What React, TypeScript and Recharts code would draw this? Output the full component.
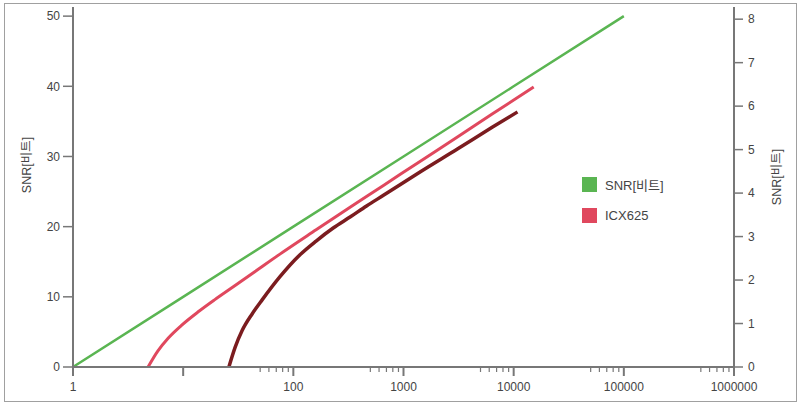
import { LineChart, Line, XAxis, YAxis, Legend } from 'recharts';

// x tick values (log axis): decades plus the short unlabelled minor ticks
const majorTicks = [1, 10, 100, 1000, 10000, 100000, 1000000];
const minorTicks = [
  50, 60, 70, 80, 90,
  500, 600, 700, 800, 900,
  5000, 6000, 7000, 8000, 9000,
  50000, 60000, 70000, 80000, 90000,
  500000, 600000, 700000, 800000, 900000,
];
// the reference leaves the "10" tick without a label
const unlabelled = [10];
const leftTicks = [0, 10, 20, 30, 40, 50];
const rightTicks = [0, 1, 2, 3, 4, 5, 6, 7, 8];
const legendNames = ['SNR[비트]', 'ICX625'];

// SNR[비트] (green)
const snrX = [1, 10, 100, 1000, 10000, 100000];
const snrY = [0, 10, 20, 30, 40, 50];

// ICX625 (red)
const icxX = [4.8, 5.9, 7.3, 9.6, 13.8, 19.4, 29.6, 45, 75, 161, 330, 663, 1334, 3110, 6380, 15200];
const icxY = [0, 2.3, 4.1, 5.9, 7.9, 9.6, 11.6, 13.6, 16.05, 19.55, 22.8, 25.9, 29.05, 32.8, 36.05, 39.9];

// unlabelled dark red curve
const refX = [26, 29.6, 34.3, 42.4, 52.3, 75, 115, 161, 230, 330, 462, 663, 1334, 3110, 6380, 10840];
const refY = [0, 2.8, 5.2, 7.6, 9.6, 12.8, 16.0, 17.95, 19.8, 21.4, 22.95, 24.5, 27.55, 31.1, 34.15, 36.35];

const toPoints = (xs: number[], ys: number[]) => xs.map((x, i) => ({ x, y: ys[i] }));

const snrData = toPoints(snrX, snrY);
const icxData = toPoints(icxX, icxY);
const refData = toPoints(refX, refY);

const FONT = '"Liberation Sans", Arial, "Noto Sans CJK KR", sans-serif';
const AXIS = '#777';
const TEXT = '#444';

const majorSet = new Set(majorTicks);
const unlabelledSet = new Set(unlabelled);

const XTick = (props: any) => {
  const { x, y, payload } = props;
  const major = majorSet.has(payload.value);
  return (
    <g>
      <line x1={x} y1={y} x2={x} y2={y + (major ? 9 : 5)} stroke={AXIS} strokeWidth={major ? 2 : 1.2} />
      {major && !unlabelledSet.has(payload.value) && (
        <text x={x} y={y + 24} textAnchor="middle" fill={TEXT} fontSize={12} fontFamily={FONT}>
          {payload.value}
        </text>
      )}
    </g>
  );
};

const LeftLabel = (props: any) => {
  const { viewBox } = props;
  const cx = viewBox.x + 27;
  const cy = 165;
  return (
    <text x={cx} y={cy} transform={`rotate(-90, ${cx}, ${cy})`} textAnchor="middle" dominantBaseline="central"
      fill={TEXT} fontSize={12.5} fontFamily={FONT}>
      SNR[비트]
    </text>
  );
};

const RightLabel = (props: any) => {
  const { viewBox } = props;
  const cx = viewBox.x + 43;
  const cy = 177;
  return (
    <text x={cx} y={cy} transform={`rotate(-90, ${cx}, ${cy})`} textAnchor="middle" dominantBaseline="central"
      fill={TEXT} fontSize={12.5} fontFamily={FONT}>
      SNR[비트]
    </text>
  );
};

const LegendBox = (props: any) => {
  const items = legendNames
    .map((n) => (props.payload || []).find((e: any) => e.value === n))
    .filter(Boolean);
  return (
    <div style={{ fontFamily: FONT, fontSize: 13, color: TEXT }}>
      {items.map((e: any) => (
        <div key={e.value} style={{ display: 'flex', alignItems: 'center', height: 31 }}>
          <span style={{ display: 'inline-block', width: 15, height: 15, background: e.color, marginRight: 8 }} />
          <span>{e.value}</span>
        </div>
      ))}
    </div>
  );
};

export default function App() {
  return (
    <div style={{ position: 'absolute', left: 0, top: 0, width: 799, height: 405, background: '#fff' }}>
      <div style={{ position: 'absolute', left: 4, top: 3, width: 791, height: 397, border: '1px solid #a0a0a0' }} />
      <LineChart width={799} height={405} margin={{ top: 7, right: 0, bottom: 0, left: 0 }}>
        <XAxis
          dataKey="x"
          type="number"
          scale="log"
          domain={[1, 1000000]}
          ticks={[...majorTicks, ...minorTicks]}
          interval={0}
          height={38}
          tickSize={0}
          tickMargin={0}
          tickLine={false}
          tick={<XTick />}
          axisLine={{ stroke: AXIS, strokeWidth: 2 }}
          allowDuplicatedCategory={false}
        />
        <YAxis
          yAxisId="left"
          type="number"
          domain={[0, 51.3]}
          ticks={leftTicks}
          width={73}
          tickSize={10}
          tickMargin={3}
          tick={{ fill: TEXT, fontSize: 12, fontFamily: FONT }}
          tickLine={{ stroke: AXIS, strokeWidth: 1.5 }}
          axisLine={{ stroke: AXIS, strokeWidth: 2 }}
          label={<LeftLabel />}
        />
        <YAxis
          yAxisId="right"
          orientation="right"
          type="number"
          domain={[0, 8.28]}
          allowDataOverflow
          ticks={rightTicks}
          width={65}
          tickSize={9}
          tickMargin={5}
          tick={{ fill: TEXT, fontSize: 12, fontFamily: FONT }}
          tickLine={{ stroke: AXIS, strokeWidth: 1.5 }}
          axisLine={{ stroke: AXIS, strokeWidth: 2 }}
          label={<RightLabel />}
        />
        <Legend
          layout="vertical"
          align="center"
          verticalAlign="middle"
          content={<LegendBox />}
          wrapperStyle={{ left: 582, top: 169, width: 120 }}
        />
        {/* invisible series so the right-hand axis gets drawn */}
        <Line
          yAxisId="right"
          data={snrData}
          dataKey="y"
          name="right"
          stroke="none"
          dot={false}
          activeDot={false}
          legendType="none"
          isAnimationActive={false}
        />
        <Line
          yAxisId="left"
          data={snrData}
          dataKey="y"
          name="SNR[비트]"
          type="linear"
          stroke="#5ab552"
          strokeWidth={2.5}
          dot={false}
          isAnimationActive={false}
        />
        <Line
          yAxisId="left"
          data={icxData}
          dataKey="y"
          name="ICX625"
          type="monotone"
          stroke="#e0485e"
          strokeWidth={3}
          dot={false}
          isAnimationActive={false}
        />
        <Line
          yAxisId="left"
          data={refData}
          dataKey="y"
          name="ref"
          type="monotone"
          stroke="#7b1c1f"
          strokeWidth={3.5}
          dot={false}
          legendType="none"
          isAnimationActive={false}
        />
      </LineChart>
    </div>
  );
}
